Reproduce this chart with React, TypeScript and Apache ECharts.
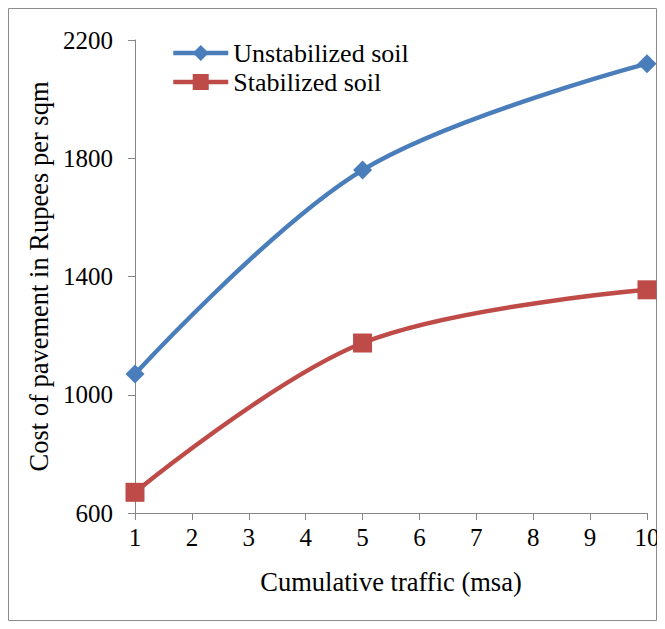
import React, { useEffect, useRef } from "react";
import * as echarts from "echarts";

const traffic = [1, 5, 10];
const unstabilized = [1070, 1760, 2120];
const stabilized = [670, 1175, 1355];
const seriesNames = ["Unstabilized soil", "Stabilized soil"];

const FONT = "Liberation Serif";
const AXIS_GRAY = "#868686";
const BLUE = "#4A7EBB";
const RED = "#BE4B48";

export default function App() {
  const ref = useRef<HTMLDivElement>(null);

  useEffect(() => {
    if (!ref.current) return;
    const chart = echarts.init(ref.current, undefined, { renderer: "svg" });
    const toPairs = (vals: number[]) => traffic.map((x, i) => [x, vals[i]]);

    chart.setOption({
      animation: false,
      backgroundColor: "#fff",
      textStyle: { fontFamily: FONT },
      grid: { left: 135, right: 18, top: 40, bottom: 116, outerBoundsMode: "none" },
      graphic: [
        {
          type: "rect",
          shape: { x: 8.5, y: 8.5, width: 648, height: 612 },
          style: { fill: "none", stroke: "#8c8c8c", lineWidth: 1 },
          silent: true,
          z: -1,
        },
      ],
      legend: {
        orient: "vertical",
        left: 166,
        top: 35,
        itemWidth: 55,
        itemHeight: 20,
        itemGap: 3,
        lineStyle: { width: 4.5 },
        textStyle: { fontFamily: FONT, fontSize: 26, color: "#000" },
        data: seriesNames,
      },
      xAxis: {
        type: "value",
        min: 1,
        max: 10,
        interval: 1,
        name: "Cumulative traffic (msa)",
        nameLocation: "middle",
        nameGap: 55,
        nameTextStyle: { fontFamily: FONT, fontSize: 26.5, color: "#000" },
        axisLine: { show: true, lineStyle: { color: AXIS_GRAY, width: 1 } },
        axisTick: { show: true, length: 7, lineStyle: { color: AXIS_GRAY } },
        axisLabel: {
          fontFamily: FONT,
          fontSize: 25,
          color: "#000",
          margin: 12,
          formatter: (v: number) => String(v),
        },
        splitLine: { show: false },
      },
      yAxis: {
        type: "value",
        min: 600,
        max: 2200,
        interval: 400,
        name: "Cost of pavement in Rupees per sqm",
        nameLocation: "middle",
        nameGap: 79,
        nameTextStyle: { fontFamily: FONT, fontSize: 26.5, color: "#000" },
        axisLine: { show: true, lineStyle: { color: AXIS_GRAY, width: 1 } },
        axisTick: { show: true, length: 7, lineStyle: { color: AXIS_GRAY } },
        axisLabel: {
          fontFamily: FONT,
          fontSize: 25,
          color: "#000",
          margin: 22,
          formatter: (v: number) => String(v),
        },
        splitLine: { show: false },
      },
      series: [
        {
          name: seriesNames[0],
          type: "line",
          data: toPairs(unstabilized),
          smooth: 0.35,
          symbol: "diamond",
          symbolSize: 19,
          color: BLUE,
          lineStyle: { width: 4.5, color: BLUE },
          itemStyle: { color: BLUE },
        },
        {
          name: seriesNames[1],
          type: "line",
          data: toPairs(stabilized),
          smooth: 0.35,
          symbol: "rect",
          symbolSize: 19,
          color: RED,
          lineStyle: { width: 4.5, color: RED },
          itemStyle: { color: RED },
        },
      ],
    });

    return () => chart.dispose();
  }, []);

  return (
    <div style={{ position: "relative", width: 649, height: 613 }}>
      <div
        ref={ref}
        style={{ position: "absolute", left: -8, top: -8, width: 665, height: 629 }}
      />
    </div>
  );
}
